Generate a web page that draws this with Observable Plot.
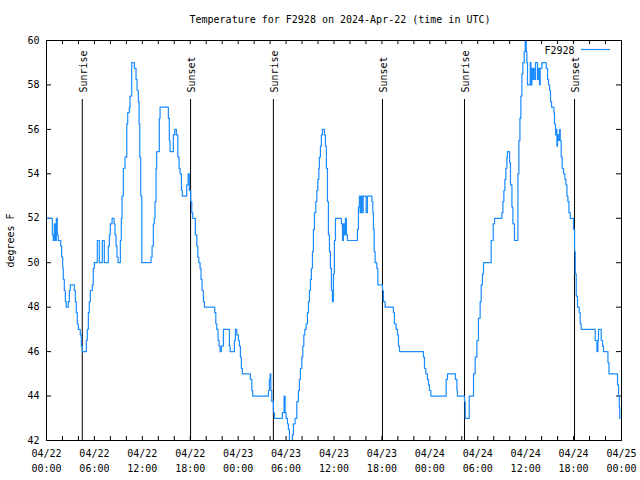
<!DOCTYPE html>
<html><head><meta charset="utf-8">
<script src="https://cdn.jsdelivr.net/npm/d3@7"></script>
<script src="https://cdn.jsdelivr.net/npm/@observablehq/plot@0.6"></script>
<style>
html,body{margin:0;padding:0;background:#fff;}
</style></head><body>
<div id="chart"></div>
<script>
const title = "Temperature for F2928 on 2024-Apr-22 (time in UTC)";
const yLabel = "degrees F";
const seriesName = "F2928";
const startUTC = "2024-04-22T00:00:00Z";
const endUTC = "2024-04-25T00:00:00Z";

// hours since 2024-04-22 00:00 UTC
const hours = [0,0.73,0.85,0.98,1.10,1.23,1.35,1.48,1.78,1.90,2.03,2.10,2.23,2.36,2.48,2.73,2.86,2.98,3.48,3.61,3.73,3.86,3.98,4.23,4.36,4.48,4.99,5.11,5.24,5.36,5.49,5.74,5.86,5.99,6.36,6.61,6.99,7.24,7.74,7.87,7.99,8.21,8.46,8.58,8.71,8.83,8.96,9.25,9.37,9.46,9.62,9.83,10.05,10.17,10.37,10.46,10.67,11.00,11.21,11.34,11.50,11.59,11.68,11.80,11.93,13.09,13.22,13.38,13.50,13.59,13.72,13.80,14.13,14.22,15.26,15.38,15.47,15.88,16.06,16.26,16.44,16.60,16.72,16.89,17.01,17.56,17.73,17.89,18.06,18.19,18.31,18.64,18.82,18.94,19.07,19.23,19.35,19.48,19.64,19.77,21.07,21.20,21.32,21.48,21.61,21.73,21.90,22.15,22.90,22.99,23.53,23.65,23.83,24.03,24.15,24.28,24.40,24.53,25.53,25.71,25.83,27.79,27.91,28.00,28.09,28.21,28.41,28.54,29.54,29.75,29.88,30.00,30.17,30.29,30.42,30.79,30.92,31.13,31.34,31.54,31.67,31.79,31.97,32.09,32.22,32.35,32.51,32.67,32.80,32.92,33.05,33.17,33.30,33.42,33.55,33.72,33.85,33.97,34.10,34.17,34.30,34.42,34.55,34.80,34.93,35.05,35.18,35.30,35.43,35.55,35.68,35.80,35.93,36.05,36.18,36.93,37.06,37.18,37.31,37.43,37.56,37.68,38.93,39.06,39.18,39.27,39.40,39.52,39.65,40.02,40.19,40.74,40.86,40.94,41.03,41.15,41.36,41.49,42.07,42.19,42.40,43.44,43.57,43.78,43.95,44.07,44.20,47.20,47.33,47.50,47.70,47.83,47.95,48.13,50.05,50.21,51.21,51.39,51.46,52.34,52.43,52.93,53.47,53.68,53.89,54.09,54.30,54.43,54.59,54.72,55.68,55.93,56.10,57.02,57.15,57.27,57.40,57.52,57.65,57.72,57.98,58.10,58.28,58.40,58.60,59.03,59.15,59.28,59.40,59.53,59.65,59.82,59.94,60.07,60.15,60.23,60.57,60.66,60.78,60.91,60.98,61.07,61.23,61.48,61.61,61.73,61.82,62.03,62.57,62.74,62.86,62.99,63.11,63.24,63.54,63.61,63.74,63.83,63.91,63.99,64.11,64.24,64.33,64.45,64.58,64.74,64.91,65.04,65.17,65.29,65.42,65.58,65.99,66.12,66.21,66.33,66.49,66.71,66.83,66.96,68.71,68.92,69.05,69.12,69.46,69.63,69.75,70.30,70.43,71.50,71.63,71.72,71.78,71.84];

const tempF = [52.0,51.25,51.0,51.75,51.0,52.0,51.25,51.0,50.75,50.25,49.75,49.25,48.75,48.25,48.0,48.25,48.75,49.0,48.75,48.25,47.75,47.25,47.0,46.75,46.25,46.0,46.5,47.0,47.75,48.25,48.75,49.0,49.75,50.0,51.0,50.0,51.0,50.0,50.75,51.25,51.75,52.0,51.75,51.25,50.75,50.25,50.0,51.0,52.0,53.0,54.25,54.75,56.25,56.75,57.0,57.5,59.0,58.75,58.25,57.75,57.25,56.25,54.75,53.0,50.0,50.25,50.75,51.75,52.0,52.75,54.25,55.0,56.5,57.0,56.5,55.5,55.0,55.75,56.0,55.75,54.75,54.25,54.0,53.25,53.0,53.5,54.0,53.25,52.75,52.25,52.0,51.25,50.75,50.25,50.0,49.75,49.25,48.75,48.25,48.0,47.75,47.25,47.0,46.5,46.25,46.0,46.25,47.0,46.25,46.0,46.5,47.0,46.75,46.5,46.25,45.75,45.25,45.0,44.75,44.25,44.0,44.25,44.75,45.0,44.25,43.75,43.25,43.0,43.25,44.0,43.25,43.0,42.75,42.5,42.0,42.25,42.75,43.0,43.75,44.25,44.75,45.25,45.75,46.25,46.75,47.0,47.25,47.75,48.25,48.75,49.25,49.75,50.5,51.5,52.25,52.75,53.25,53.75,54.25,54.75,55.25,55.75,56.0,55.75,55.25,54.25,52.75,51.25,50.5,49.75,48.75,48.25,49.5,51.0,52.0,51.75,51.0,51.75,51.25,52.0,51.25,51.0,51.5,52.5,53.0,52.25,53.0,52.25,53.0,52.25,53.0,52.75,52.25,51.5,50.5,50.0,49.75,49.0,48.75,48.25,48.0,47.75,47.25,47.0,46.75,46.25,46.0,45.75,45.25,45.0,44.75,44.5,44.25,44.0,44.75,45.0,44.75,44.25,44.0,43.75,43.0,44.0,45.0,45.75,46.5,47.5,48.25,49.0,49.5,50.0,51.0,51.75,52.0,52.25,52.75,53.25,53.75,54.25,54.75,55.0,54.5,53.5,52.5,51.75,51.0,54.0,55.5,56.5,57.5,58.5,59.0,59.5,60.0,59.5,59.0,58.0,59.0,58.0,58.75,58.25,58.75,58.25,59.0,58.25,58.75,58.0,58.75,59.0,58.75,58.25,58.0,57.75,57.25,57.0,56.75,56.25,55.75,56.0,55.25,55.75,55.5,56.0,55.5,54.75,54.25,54.0,53.75,53.5,53.0,52.75,52.25,52.0,51.5,50.5,49.5,48.5,48.0,47.75,47.25,47.0,46.5,46.0,46.5,47.0,46.5,46.25,46.0,45.5,45.0,44.5,44.0,43.5,43.0,43.0];

const sunHours = [4.48, 18.04, 28.41, 42.07, 52.34, 66.12];
const sunLabels = ["Sunrise", "Sunset", "Sunrise", "Sunset", "Sunrise", "Sunset"];
const yTicks = [42, 44, 46, 48, 50, 52, 54, 56, 58, 60];
const labelTickHours = [0, 6, 12, 18, 24, 30, 36, 42, 48, 54, 60, 66, 72];
const minorTickHours = [0,2,4,6,8,10,12,14,16,18,20,22,24,26,28,30,32,34,36,38,40,42,44,46,48,50,52,54,56,58,60,62,64,66,68,70,72];

const blue = "#1a8cff";
const t0 = new Date(startUTC).getTime();
const toDate = h => new Date(t0 + h * 3600e3);
const data = hours.map((h, i) => ({t: toDate(h), v: tempF[i]}));
const sun = sunHours.map((h, i) => ({t: toDate(h), label: sunLabels[i]}));
const majorTicks = labelTickHours.map(toDate);
const minorTicks = minorTickHours.map(toDate);

const W = 640, H = 480, mL = 46, mR = 19, mT = 40, mB = 40;
const plotW = W - mL - mR, plotH = H - mT - mB;
const font = "'DejaVu Sans Mono', monospace";

const chart = Plot.plot({
  width: W, height: H,
  marginTop: mT, marginBottom: mB, marginLeft: mL, marginRight: mR,
  style: {fontFamily: font, fontSize: "10px", color: "black", background: "white", overflow: "visible"},
  x: {type: "utc", domain: [new Date(startUTC), new Date(endUTC)]},
  y: {domain: [42, 60]},
  marks: [
    // tick marks (inward, mirrored)
    Plot.ruleX(minorTicks, {x: d => d, insetTop: plotH - 4, stroke: "black"}),
    Plot.ruleX(minorTicks, {x: d => d, insetBottom: plotH - 4, stroke: "black"}),
    Plot.ruleY(yTicks, {y: d => d, insetRight: plotW - 5, stroke: "black"}),
    Plot.ruleY(yTicks, {y: d => d, insetLeft: plotW - 5, stroke: "black"}),
    // axis labels
    Plot.axisX({ticks: majorTicks, tickSize: 0, tickPadding: 9, tickFormat: d3.utcFormat("%m/%d"), label: null, fontSize: 10}),
    Plot.axisX({ticks: majorTicks, tickSize: 0, tickPadding: 24, tickFormat: d3.utcFormat("%H:%M"), label: null, fontSize: 10}),
    Plot.axisY({ticks: yTicks, tickSize: 0, tickPadding: 7, label: null, fontSize: 10}),
    // sunrise / sunset
    Plot.ruleX(sun, {x: "t", insetTop: 59, stroke: "black", strokeWidth: 1}),
    Plot.text(sun, {x: "t", text: "label", frameAnchor: "top", dy: 52, dx: 1.5, rotate: -90, textAnchor: "start", lineAnchor: "middle", fontSize: 10, fill: "black"}),
    // data
    Plot.line(data, {x: "t", y: "v", curve: "step-after", stroke: blue, strokeWidth: 1.2}),
    Plot.frame({stroke: "black"}),
    // legend
    Plot.text([seriesName], {text: d => d, frameAnchor: "top-right", dx: -47, dy: 10, textAnchor: "end", lineAnchor: "middle", fontSize: 10, fill: "black"}),
    Plot.ruleY([60], {y: d => d, dy: 9, insetLeft: 535, insetRight: 11, stroke: blue, strokeWidth: 1.2}),
    // titles
    Plot.text([title], {text: d => d, frameAnchor: "top", dy: -21, dx: 6, lineAnchor: "middle", fontSize: 10, fill: "black"}),
    Plot.text([yLabel], {text: d => d, frameAnchor: "left", dx: -36, rotate: -90, lineAnchor: "middle", textAnchor: "middle", fontSize: 10, fill: "black"})
  ]
});
document.getElementById("chart").appendChild(chart);
</script>
</body></html>
